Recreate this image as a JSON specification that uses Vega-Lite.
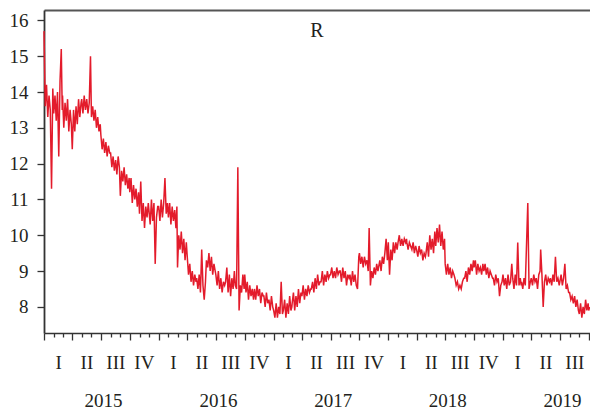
{
"$schema": "https://vega.github.io/schema/vega-lite/v6.json",
"width": 546, "height": 323,
"autosize": {"type": "none"},
"padding": {"left": 44, "top": 10, "right": 0, "bottom": 78},
"background": "white",
"config": {"view": {"stroke": null}, "font": "Liberation Serif", "axis": {"labelFont": "Liberation Serif", "labelColor": "#231f20", "grid": false, "title": null}},
"title": {"text": "R", "orient": "top", "anchor": "middle", "offset": -47, "baseline": "alphabetic", "fontSize": 20, "fontWeight": "normal", "font": "Liberation Serif", "color": "#231f20"},
"layer": [
{"data": {"values": [
{"d":"2015-01-01","v":15.7},{"d":"2015-01-05","v":13.6},{"d":"2015-01-09","v":14.2},{"d":"2015-01-13","v":13.3},{"d":"2015-01-17","v":13.9},{"d":"2015-01-21","v":13.5},{"d":"2015-01-25","v":11.3},{"d":"2015-01-29","v":14.1},
{"d":"2015-02-01","v":13.4},{"d":"2015-02-05","v":13.9},{"d":"2015-02-09","v":13.2},{"d":"2015-02-13","v":14.0},{"d":"2015-02-17","v":12.2},{"d":"2015-02-21","v":14.3},{"d":"2015-02-25","v":15.2},{"d":"2015-02-28","v":13.5},
{"d":"2015-03-01","v":13.9},{"d":"2015-03-05","v":13.0},{"d":"2015-03-09","v":13.7},{"d":"2015-03-13","v":13.2},{"d":"2015-03-17","v":13.8},{"d":"2015-03-21","v":12.9},{"d":"2015-03-25","v":13.5},{"d":"2015-03-29","v":13.1},
{"d":"2015-04-01","v":12.4},{"d":"2015-04-05","v":13.5},{"d":"2015-04-09","v":12.9},{"d":"2015-04-13","v":13.6},{"d":"2015-04-17","v":13.1},{"d":"2015-04-21","v":13.8},{"d":"2015-04-25","v":13.3},{"d":"2015-04-29","v":13.7},
{"d":"2015-05-01","v":13.8},{"d":"2015-05-05","v":13.4},{"d":"2015-05-09","v":13.9},{"d":"2015-05-13","v":13.5},{"d":"2015-05-17","v":13.8},{"d":"2015-05-21","v":13.4},{"d":"2015-05-25","v":13.7},{"d":"2015-05-29","v":15.0},
{"d":"2015-06-01","v":13.3},{"d":"2015-06-05","v":13.6},{"d":"2015-06-09","v":13.2},{"d":"2015-06-13","v":13.5},{"d":"2015-06-17","v":13.0},{"d":"2015-06-21","v":13.3},{"d":"2015-06-25","v":12.9},{"d":"2015-06-29","v":13.1},
{"d":"2015-07-01","v":12.8},{"d":"2015-07-05","v":12.4},{"d":"2015-07-09","v":12.7},{"d":"2015-07-13","v":12.3},{"d":"2015-07-17","v":12.6},{"d":"2015-07-21","v":12.2},{"d":"2015-07-25","v":12.5},{"d":"2015-07-29","v":12.3},
{"d":"2015-08-01","v":12.3},{"d":"2015-08-05","v":11.9},{"d":"2015-08-09","v":12.2},{"d":"2015-08-13","v":11.8},{"d":"2015-08-17","v":12.1},{"d":"2015-08-21","v":11.7},{"d":"2015-08-25","v":12.2},{"d":"2015-08-29","v":11.9},
{"d":"2015-09-01","v":11.1},{"d":"2015-09-05","v":11.8},{"d":"2015-09-09","v":11.5},{"d":"2015-09-13","v":11.9},{"d":"2015-09-17","v":11.4},{"d":"2015-09-21","v":11.7},{"d":"2015-09-25","v":11.3},{"d":"2015-09-29","v":11.6},
{"d":"2015-10-01","v":11.2},{"d":"2015-10-05","v":11.6},{"d":"2015-10-09","v":10.9},{"d":"2015-10-13","v":11.4},{"d":"2015-10-17","v":11.0},{"d":"2015-10-21","v":11.3},{"d":"2015-10-25","v":10.8},{"d":"2015-10-29","v":11.2},
{"d":"2015-11-01","v":10.6},{"d":"2015-11-05","v":11.5},{"d":"2015-11-09","v":10.4},{"d":"2015-11-13","v":10.9},{"d":"2015-11-17","v":10.2},{"d":"2015-11-21","v":10.8},{"d":"2015-11-25","v":10.5},{"d":"2015-11-29","v":10.9},
{"d":"2015-12-01","v":10.7},{"d":"2015-12-05","v":10.3},{"d":"2015-12-09","v":11.0},{"d":"2015-12-13","v":10.4},{"d":"2015-12-17","v":10.9},{"d":"2015-12-21","v":9.2},{"d":"2015-12-25","v":10.5},{"d":"2015-12-29","v":10.8},
{"d":"2016-01-01","v":10.8},{"d":"2016-01-05","v":10.4},{"d":"2016-01-09","v":11.0},{"d":"2016-01-13","v":10.5},{"d":"2016-01-17","v":10.9},{"d":"2016-01-21","v":11.6},{"d":"2016-01-25","v":10.6},{"d":"2016-01-29","v":10.9},
{"d":"2016-02-01","v":10.5},{"d":"2016-02-05","v":10.9},{"d":"2016-02-09","v":10.3},{"d":"2016-02-13","v":10.8},{"d":"2016-02-17","v":10.4},{"d":"2016-02-21","v":10.7},{"d":"2016-02-25","v":10.2},{"d":"2016-02-28","v":10.8},
{"d":"2016-03-01","v":9.1},{"d":"2016-03-05","v":10.0},{"d":"2016-03-09","v":9.6},{"d":"2016-03-13","v":10.1},{"d":"2016-03-17","v":9.5},{"d":"2016-03-21","v":9.9},{"d":"2016-03-25","v":9.3},{"d":"2016-03-29","v":9.8},
{"d":"2016-04-01","v":9.4},{"d":"2016-04-05","v":8.9},{"d":"2016-04-09","v":9.2},{"d":"2016-04-13","v":8.7},{"d":"2016-04-17","v":9.0},{"d":"2016-04-21","v":8.6},{"d":"2016-04-25","v":8.9},{"d":"2016-04-29","v":8.7},
{"d":"2016-05-01","v":8.8},{"d":"2016-05-05","v":8.5},{"d":"2016-05-09","v":8.9},{"d":"2016-05-13","v":8.4},{"d":"2016-05-17","v":9.6},{"d":"2016-05-21","v":8.6},{"d":"2016-05-25","v":8.2},{"d":"2016-05-29","v":8.7},
{"d":"2016-06-01","v":9.3},{"d":"2016-06-05","v":9.1},{"d":"2016-06-09","v":9.5},{"d":"2016-06-13","v":9.0},{"d":"2016-06-17","v":9.4},{"d":"2016-06-21","v":8.9},{"d":"2016-06-25","v":9.2},{"d":"2016-06-29","v":9.0},
{"d":"2016-07-01","v":8.9},{"d":"2016-07-05","v":8.6},{"d":"2016-07-09","v":9.0},{"d":"2016-07-13","v":8.5},{"d":"2016-07-17","v":8.8},{"d":"2016-07-21","v":8.4},{"d":"2016-07-25","v":8.7},{"d":"2016-07-29","v":8.6},
{"d":"2016-08-01","v":8.7},{"d":"2016-08-05","v":9.1},{"d":"2016-08-09","v":8.4},{"d":"2016-08-13","v":8.9},{"d":"2016-08-17","v":8.3},{"d":"2016-08-21","v":8.8},{"d":"2016-08-25","v":8.5},{"d":"2016-08-29","v":9.0},
{"d":"2016-09-01","v":8.6},{"d":"2016-09-05","v":8.5},{"d":"2016-09-09","v":11.9},{"d":"2016-09-13","v":7.9},{"d":"2016-09-17","v":8.6},{"d":"2016-09-21","v":8.4},{"d":"2016-09-25","v":8.9},{"d":"2016-09-29","v":8.5},
{"d":"2016-10-01","v":8.9},{"d":"2016-10-05","v":8.4},{"d":"2016-10-09","v":8.7},{"d":"2016-10-13","v":8.2},{"d":"2016-10-17","v":8.6},{"d":"2016-10-21","v":8.3},{"d":"2016-10-25","v":8.5},{"d":"2016-10-29","v":8.2},
{"d":"2016-11-01","v":8.5},{"d":"2016-11-05","v":8.2},{"d":"2016-11-09","v":8.6},{"d":"2016-11-13","v":8.3},{"d":"2016-11-17","v":8.5},{"d":"2016-11-21","v":8.1},{"d":"2016-11-25","v":8.4},{"d":"2016-11-29","v":8.3},
{"d":"2016-12-01","v":8.3},{"d":"2016-12-05","v":8.0},{"d":"2016-12-09","v":8.4},{"d":"2016-12-13","v":8.1},{"d":"2016-12-17","v":8.2},{"d":"2016-12-21","v":7.9},{"d":"2016-12-25","v":8.3},{"d":"2016-12-29","v":8.0},
{"d":"2017-01-01","v":7.9},{"d":"2017-01-05","v":7.7},{"d":"2017-01-09","v":8.1},{"d":"2017-01-13","v":7.7},{"d":"2017-01-17","v":8.0},{"d":"2017-01-21","v":7.8},{"d":"2017-01-25","v":8.7},{"d":"2017-01-29","v":7.8},
{"d":"2017-02-01","v":7.9},{"d":"2017-02-05","v":8.2},{"d":"2017-02-09","v":7.7},{"d":"2017-02-13","v":8.1},{"d":"2017-02-17","v":7.8},{"d":"2017-02-21","v":8.3},{"d":"2017-02-25","v":7.9},{"d":"2017-02-28","v":8.0},
{"d":"2017-03-01","v":8.1},{"d":"2017-03-05","v":8.4},{"d":"2017-03-09","v":7.9},{"d":"2017-03-13","v":8.3},{"d":"2017-03-17","v":8.0},{"d":"2017-03-21","v":8.5},{"d":"2017-03-25","v":8.1},{"d":"2017-03-29","v":8.4},
{"d":"2017-04-01","v":8.3},{"d":"2017-04-05","v":8.6},{"d":"2017-04-09","v":8.2},{"d":"2017-04-13","v":8.5},{"d":"2017-04-17","v":8.3},{"d":"2017-04-21","v":8.6},{"d":"2017-04-25","v":8.4},{"d":"2017-04-29","v":8.5},
{"d":"2017-05-01","v":8.5},{"d":"2017-05-05","v":8.7},{"d":"2017-05-09","v":8.4},{"d":"2017-05-13","v":8.8},{"d":"2017-05-17","v":8.5},{"d":"2017-05-21","v":8.9},{"d":"2017-05-25","v":8.6},{"d":"2017-05-29","v":8.7},
{"d":"2017-06-01","v":8.7},{"d":"2017-06-05","v":9.0},{"d":"2017-06-09","v":8.6},{"d":"2017-06-13","v":8.9},{"d":"2017-06-17","v":8.7},{"d":"2017-06-21","v":9.0},{"d":"2017-06-25","v":8.8},{"d":"2017-06-29","v":8.9},
{"d":"2017-07-01","v":8.9},{"d":"2017-07-05","v":9.1},{"d":"2017-07-09","v":8.8},{"d":"2017-07-13","v":9.0},{"d":"2017-07-17","v":8.8},{"d":"2017-07-21","v":9.1},{"d":"2017-07-25","v":8.9},{"d":"2017-07-29","v":9.0},
{"d":"2017-08-01","v":9.0},{"d":"2017-08-05","v":8.7},{"d":"2017-08-09","v":9.1},{"d":"2017-08-13","v":8.8},{"d":"2017-08-17","v":9.0},{"d":"2017-08-21","v":8.6},{"d":"2017-08-25","v":8.9},{"d":"2017-08-29","v":8.8},
{"d":"2017-09-01","v":8.9},{"d":"2017-09-05","v":8.6},{"d":"2017-09-09","v":9.0},{"d":"2017-09-13","v":8.7},{"d":"2017-09-17","v":8.9},{"d":"2017-09-21","v":8.6},{"d":"2017-09-25","v":8.5},{"d":"2017-09-29","v":9.4},
{"d":"2017-10-01","v":9.5},{"d":"2017-10-05","v":9.2},{"d":"2017-10-09","v":9.4},{"d":"2017-10-13","v":9.1},{"d":"2017-10-17","v":9.4},{"d":"2017-10-21","v":9.2},{"d":"2017-10-25","v":9.3},{"d":"2017-10-29","v":9.0},
{"d":"2017-11-01","v":10.2},{"d":"2017-11-05","v":8.6},{"d":"2017-11-09","v":9.0},{"d":"2017-11-13","v":8.8},{"d":"2017-11-17","v":9.1},{"d":"2017-11-21","v":8.9},{"d":"2017-11-25","v":9.2},{"d":"2017-11-29","v":9.0},
{"d":"2017-12-01","v":9.1},{"d":"2017-12-05","v":9.3},{"d":"2017-12-09","v":9.0},{"d":"2017-12-13","v":9.4},{"d":"2017-12-17","v":9.2},{"d":"2017-12-21","v":9.5},{"d":"2017-12-25","v":9.9},{"d":"2017-12-29","v":9.3},
{"d":"2018-01-01","v":9.8},{"d":"2018-01-05","v":8.9},{"d":"2018-01-09","v":9.6},{"d":"2018-01-13","v":9.3},{"d":"2018-01-17","v":9.8},{"d":"2018-01-21","v":9.5},{"d":"2018-01-25","v":9.8},{"d":"2018-01-29","v":9.6},
{"d":"2018-02-01","v":9.8},{"d":"2018-02-05","v":10.0},{"d":"2018-02-09","v":9.7},{"d":"2018-02-13","v":9.9},{"d":"2018-02-17","v":9.7},{"d":"2018-02-21","v":9.9},{"d":"2018-02-25","v":9.8},{"d":"2018-02-28","v":9.9},
{"d":"2018-03-01","v":9.8},{"d":"2018-03-05","v":9.6},{"d":"2018-03-09","v":9.8},{"d":"2018-03-13","v":9.7},{"d":"2018-03-17","v":9.6},{"d":"2018-03-21","v":9.8},{"d":"2018-03-25","v":9.5},{"d":"2018-03-29","v":9.7},
{"d":"2018-04-01","v":9.6},{"d":"2018-04-05","v":9.4},{"d":"2018-04-09","v":9.7},{"d":"2018-04-13","v":9.5},{"d":"2018-04-17","v":9.6},{"d":"2018-04-21","v":9.3},{"d":"2018-04-25","v":9.5},{"d":"2018-04-29","v":9.4},
{"d":"2018-05-01","v":9.5},{"d":"2018-05-05","v":9.8},{"d":"2018-05-09","v":9.4},{"d":"2018-05-13","v":10.0},{"d":"2018-05-17","v":9.6},{"d":"2018-05-21","v":9.9},{"d":"2018-05-25","v":9.5},{"d":"2018-05-29","v":10.1},
{"d":"2018-06-01","v":9.7},{"d":"2018-06-05","v":10.2},{"d":"2018-06-09","v":9.8},{"d":"2018-06-13","v":10.3},{"d":"2018-06-17","v":9.7},{"d":"2018-06-21","v":10.1},{"d":"2018-06-25","v":9.6},{"d":"2018-06-29","v":9.9},
{"d":"2018-07-01","v":9.2},{"d":"2018-07-05","v":8.9},{"d":"2018-07-09","v":9.2},{"d":"2018-07-13","v":8.9},{"d":"2018-07-17","v":9.1},{"d":"2018-07-21","v":8.8},{"d":"2018-07-25","v":9.0},{"d":"2018-07-29","v":8.9},
{"d":"2018-08-01","v":8.8},{"d":"2018-08-05","v":8.6},{"d":"2018-08-09","v":8.7},{"d":"2018-08-13","v":8.5},{"d":"2018-08-17","v":8.6},{"d":"2018-08-21","v":8.5},{"d":"2018-08-25","v":8.7},{"d":"2018-08-29","v":8.8},
{"d":"2018-09-01","v":8.8},{"d":"2018-09-05","v":9.0},{"d":"2018-09-09","v":8.7},{"d":"2018-09-13","v":9.1},{"d":"2018-09-17","v":8.9},{"d":"2018-09-21","v":9.2},{"d":"2018-09-25","v":9.0},{"d":"2018-09-29","v":9.3},
{"d":"2018-10-01","v":9.1},{"d":"2018-10-05","v":9.3},{"d":"2018-10-09","v":8.9},{"d":"2018-10-13","v":9.2},{"d":"2018-10-17","v":9.0},{"d":"2018-10-21","v":9.1},{"d":"2018-10-25","v":8.9},{"d":"2018-10-29","v":9.2},
{"d":"2018-11-01","v":9.0},{"d":"2018-11-05","v":9.2},{"d":"2018-11-09","v":8.9},{"d":"2018-11-13","v":9.1},{"d":"2018-11-17","v":8.8},{"d":"2018-11-21","v":9.0},{"d":"2018-11-25","v":8.9},{"d":"2018-11-29","v":8.8},
{"d":"2018-12-01","v":8.8},{"d":"2018-12-05","v":8.6},{"d":"2018-12-09","v":8.9},{"d":"2018-12-13","v":8.7},{"d":"2018-12-17","v":8.8},{"d":"2018-12-21","v":8.3},{"d":"2018-12-25","v":8.6},{"d":"2018-12-29","v":8.7},
{"d":"2019-01-01","v":8.9},{"d":"2019-01-05","v":8.6},{"d":"2019-01-09","v":8.8},{"d":"2019-01-13","v":8.5},{"d":"2019-01-17","v":8.9},{"d":"2019-01-21","v":8.6},{"d":"2019-01-25","v":8.7},{"d":"2019-01-29","v":9.2},
{"d":"2019-02-01","v":8.8},{"d":"2019-02-05","v":8.5},{"d":"2019-02-09","v":8.9},{"d":"2019-02-13","v":8.6},{"d":"2019-02-17","v":9.8},{"d":"2019-02-21","v":8.6},{"d":"2019-02-25","v":8.8},{"d":"2019-02-28","v":8.6},
{"d":"2019-03-01","v":8.7},{"d":"2019-03-05","v":8.5},{"d":"2019-03-09","v":8.8},{"d":"2019-03-13","v":8.6},{"d":"2019-03-21","v":10.9},{"d":"2019-03-25","v":8.5},{"d":"2019-03-29","v":8.7},
{"d":"2019-04-01","v":8.8},{"d":"2019-04-05","v":8.6},{"d":"2019-04-09","v":8.9},{"d":"2019-04-13","v":8.7},{"d":"2019-04-17","v":8.8},{"d":"2019-04-21","v":8.5},{"d":"2019-04-25","v":8.9},{"d":"2019-04-29","v":9.0},
{"d":"2019-05-01","v":9.6},{"d":"2019-05-05","v":8.9},{"d":"2019-05-09","v":8.0},{"d":"2019-05-13","v":8.7},{"d":"2019-05-17","v":8.9},{"d":"2019-05-21","v":8.6},{"d":"2019-05-25","v":8.8},{"d":"2019-05-29","v":8.7},
{"d":"2019-06-01","v":8.8},{"d":"2019-06-05","v":8.6},{"d":"2019-06-09","v":8.9},{"d":"2019-06-13","v":8.7},{"d":"2019-06-17","v":9.4},{"d":"2019-06-21","v":8.7},{"d":"2019-06-25","v":8.8},{"d":"2019-06-29","v":8.6},
{"d":"2019-07-01","v":8.7},{"d":"2019-07-05","v":8.9},{"d":"2019-07-09","v":8.6},{"d":"2019-07-13","v":8.8},{"d":"2019-07-17","v":9.2},{"d":"2019-07-21","v":8.5},{"d":"2019-07-25","v":8.6},{"d":"2019-07-29","v":8.4},
{"d":"2019-08-01","v":8.4},{"d":"2019-08-05","v":8.2},{"d":"2019-08-09","v":8.3},{"d":"2019-08-13","v":8.1},{"d":"2019-08-17","v":8.3},{"d":"2019-08-21","v":8.0},{"d":"2019-08-25","v":8.2},{"d":"2019-08-29","v":7.9},
{"d":"2019-09-01","v":7.8},{"d":"2019-09-05","v":8.1},{"d":"2019-09-09","v":7.7},{"d":"2019-09-13","v":8.0},{"d":"2019-09-17","v":7.8},{"d":"2019-09-21","v":8.2},{"d":"2019-09-25","v":7.9},{"d":"2019-09-29","v":8.1},
{"d":"2019-10-01","v":7.9},{"d":"2019-10-04","v":8.0}
]},
"mark": {"type": "line", "color": "#e31b2b", "strokeWidth": 1.5},
"encoding": {
"x": {"field": "d", "type": "temporal", "scale": {"domain": [{"year": 2015, "month": 1, "date": 1}, {"year": 2019, "month": 10, "date": 5}], "nice": false},
"axis": {"orient": "bottom", "labels": false, "tickCount": {"interval": "month", "step": 1}, "tickSize": {"condition": {"test": "month(datum.value) % 3 === 0", "value": 7}, "value": 4}, "tickColor": "#333333", "tickWidth": 1.3, "domainColor": "#333333", "domainWidth": 1.6}},
"y": {"field": "v", "type": "quantitative", "scale": {"domain": [7.27, 16.29], "nice": false, "zero": false},
"axis": {"orient": "left", "values": [8, 9, 10, 11, 12, 13, 14, 15, 16], "tickSize": 7, "tickColor": "#333333", "tickWidth": 1.3, "domainColor": "#333333", "domainWidth": 1.8, "labelFontSize": 19, "labelPadding": 9}}
}},
{"data": {"values": [{"d": "2017-01-01"}]},
"mark": {"type": "point", "opacity": 0},
"encoding": {"x": {"field": "d", "type": "temporal", "scale": {"domain": [{"year": 2015, "month": 1, "date": 1}, {"year": 2019, "month": 10, "date": 5}], "nice": false},
"axis": {"orient": "bottom", "domain": false, "ticks": false, "tickSize": 0, "labelBaseline": "alphabetic", "labelPadding": 35, "labelFontSize": 19, "labelFlush": false, "labelOverlap": false, "labelBound": false,
"labelExpr": "['I','II','III','IV'][floor(month(datum.value)/3)]",
"values": [{"year":2015,"month":2,"date":15},{"year":2015,"month":5,"date":16},{"year":2015,"month":8,"date":16},{"year":2015,"month":11,"date":15},
{"year":2016,"month":2,"date":15},{"year":2016,"month":5,"date":16},{"year":2016,"month":8,"date":16},{"year":2016,"month":11,"date":15},
{"year":2017,"month":2,"date":15},{"year":2017,"month":5,"date":16},{"year":2017,"month":8,"date":16},{"year":2017,"month":11,"date":15},
{"year":2018,"month":2,"date":15},{"year":2018,"month":5,"date":16},{"year":2018,"month":8,"date":16},{"year":2018,"month":11,"date":15},
{"year":2019,"month":2,"date":15},{"year":2019,"month":5,"date":16},{"year":2019,"month":8,"date":16}]}}}},
{"data": {"values": [{"d": "2017-01-01"}]},
"mark": {"type": "point", "opacity": 0},
"encoding": {"x": {"field": "d", "type": "temporal", "scale": {"domain": [{"year": 2015, "month": 1, "date": 1}, {"year": 2019, "month": 10, "date": 5}], "nice": false},
"axis": {"orient": "bottom", "domain": false, "ticks": false, "tickSize": 0, "labelBaseline": "alphabetic", "labelPadding": 73, "labelFontSize": 19, "labelFlush": false, "labelOverlap": false, "labelBound": false, "format": "%Y",
"values": [{"year":2015,"month":7,"date":8},{"year":2016,"month":7,"date":8},{"year":2017,"month":7,"date":8},{"year":2018,"month":7,"date":8},{"year":2019,"month":7,"date":8}]}}}},
{"data": {"values": [{"d": "2017-01-01"}]},
"mark": {"type": "point", "opacity": 0},
"encoding": {"x": {"field": "d", "type": "temporal", "scale": {"domain": [{"year": 2015, "month": 1, "date": 1}, {"year": 2019, "month": 10, "date": 5}], "nice": false},
"axis": {"orient": "top", "domain": true, "ticks": false, "labels": false, "domainColor": "#555555", "domainWidth": 2}}}}
],
"resolve": {"axis": {"x": "independent"}}
}
